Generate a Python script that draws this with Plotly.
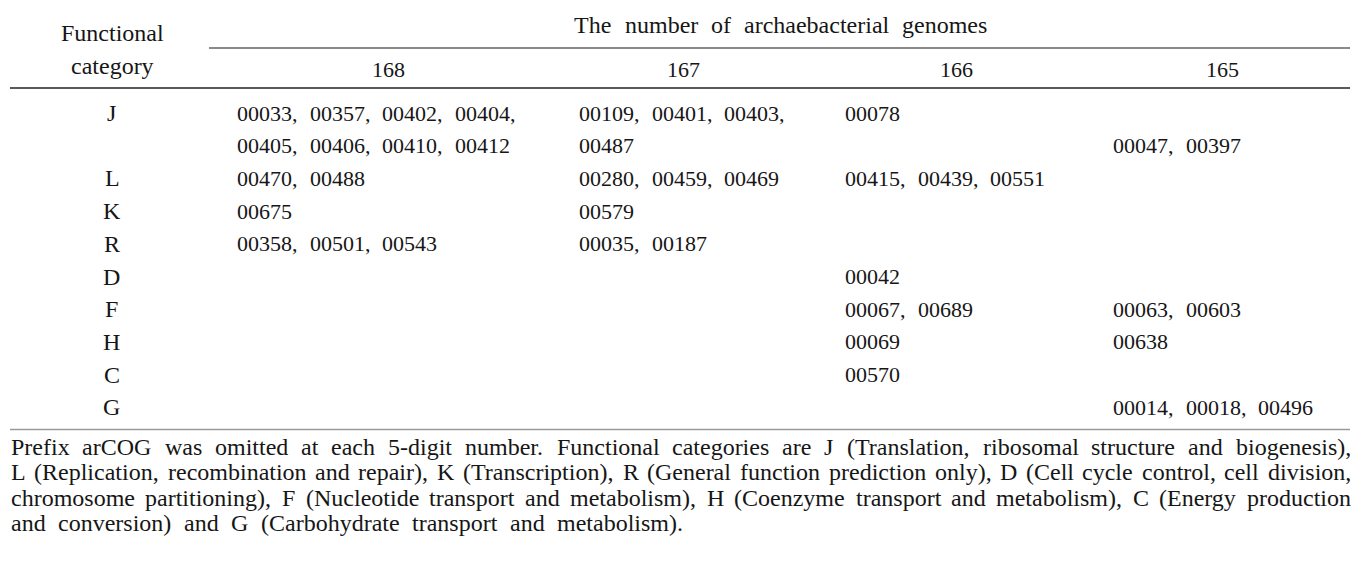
import plotly.graph_objects as go

# ---------------- data ----------------
row_header = ["Functional", "category"]
header_title = "The number of archaebacterial genomes"
genome_counts = ["168", "167", "166", "165"]
categories = ["J", "", "L", "K", "R", "D", "F", "H", "C", "G"]
col_168 = ["00033, 00357, 00402, 00404,", "00405, 00406, 00410, 00412", "00470, 00488",
           "00675", "00358, 00501, 00543", "", "", "", "", ""]
col_167 = ["00109, 00401, 00403,", "00487", "00280, 00459, 00469", "00579",
           "00035, 00187", "", "", "", "", ""]
col_166 = ["00078", "", "00415, 00439, 00551", "", "", "00042", "00067, 00689",
           "00069", "00570", ""]
col_165 = ["", "00047, 00397", "", "", "", "", "00063, 00603", "00638", "",
           "00014, 00018, 00496"]
footnote_lines = [
    "Prefix arCOG was omitted at each 5-digit number. Functional categories are J (Translation, ribosomal structure and biogenesis),",
    "L (Replication, recombination and repair), K (Transcription), R (General function prediction only), D (Cell cycle control, cell division,",
    "chromosome partitioning), F (Nucleotide transport and metabolism), H (Coenzyme transport and metabolism), C (Energy production",
    "and conversion) and G (Carbohydrate transport and metabolism).",
]

# ---------------- layout helpers ----------------
W, H = 1369, 569
OFF = 8  # default page body margin
FONT = "Liberation Serif, Times New Roman, serif"
TXT = 24     # words
DIG = 22     # numbers
FOOT = 24
COLOR = "#161616"

TW = {" ": 250, "(": 333, ")": 333, ",": 250, "-": 333, ".": 250,
      "A": 722, "B": 667, "C": 667, "D": 722, "E": 611, "F": 556, "G": 722, "H": 722,
      "I": 333, "J": 389, "K": 722, "L": 611, "M": 889, "N": 722, "O": 722, "P": 556,
      "Q": 722, "R": 667, "S": 556, "T": 611, "U": 722, "V": 722, "W": 944,
      "a": 444, "b": 500, "c": 444, "d": 500, "e": 444, "f": 333, "g": 500, "h": 500,
      "i": 278, "j": 278, "k": 500, "l": 278, "m": 778, "n": 500, "o": 500, "p": 500,
      "q": 500, "r": 333, "s": 389, "t": 278, "u": 500, "v": 500, "w": 722, "x": 500,
      "y": 500, "z": 444}
for d in "0123456789":
    TW[d] = 500


def tw(s, size):
    return sum(TW.get(c, 500) for c in s) / 1000.0 * size


def auto_size(text):
    return DIG if all(c in "0123456789, " for c in text) else TXT


annotations = []


def place(text, x, y, gap, anchor="left", width=None, size=None):
    if not text:
        return
    size = size or auto_size(text)
    words = text.split(" ")
    widths = [tw(w, size) for w in words]
    if width is not None and len(words) > 1:
        gap = (width - sum(widths)) / (len(words) - 1)
    total = sum(widths) + gap * (len(words) - 1)
    x0 = x - total / 2 if anchor == "center" else x
    cx = x0
    for w, wd in zip(words, widths):
        annotations.append(dict(x=cx, y=y, xref="x", yref="y", text=w, showarrow=False,
                                xanchor="left", yanchor="middle", borderpad=0,
                                font=dict(family=FONT, size=size, color=COLOR)))
        cx += wd + gap


# positions (reference pixel coordinates)
left, right = 10, 1350
cat_x = 111
col_x = [236, 578, 844, 1112]
col_cx = [387, 682, 955, 1221]
row_y0, row_step = 113, 32.7
cell_gap = 12

fig = go.Figure()

# header
place(row_header[0], cat_x, 33, 6, "center")
place(row_header[1], cat_x, 66, 6, "center")
place(header_title, 780, 25, 13, "center")
for cx, lab in zip(col_cx, genome_counts):
    place(lab, cx, 69, 6, "center")

# body
cols = [col_168, col_167, col_166, col_165]
for i, cat in enumerate(categories):
    y = row_y0 + i * row_step
    place(cat, cat_x, y, 6, "center")
    for cx, col in zip(col_x, cols):
        place(col[i], cx, y, cell_gap)

# footnote
foot_y = [447, 472, 497.5, 523]
for k, (line, y) in enumerate(zip(footnote_lines, foot_y)):
    if k < len(footnote_lines) - 1:
        place(line, left, y, 8, width=right - left, size=FOOT)
    else:
        place(line, left, y, 12.5, size=FOOT)

shapes = [
    dict(type="line", x0=left, x1=right, y0=7, y1=7, line=dict(color="#7a7a7a", width=2)),
    dict(type="line", x0=209, x1=right, y0=48, y1=48, line=dict(color="#8a8a8a", width=2)),
    dict(type="line", x0=left, x1=right, y0=88, y1=88, line=dict(color="#222", width=1.5)),
    dict(type="line", x0=left, x1=right, y0=429.5, y1=429.5, line=dict(color="#9a9a9a", width=1.5)),
]
for s in shapes:
    s.update(xref="x", yref="y")

fig.update_layout(
    width=W - OFF, height=H - OFF, margin=dict(l=0, r=0, t=0, b=0),
    paper_bgcolor="white", plot_bgcolor="white",
    xaxis=dict(range=[OFF, W], visible=False, fixedrange=True),
    yaxis=dict(range=[H, OFF], visible=False, fixedrange=True),
    annotations=annotations, shapes=shapes, showlegend=False,
)
fig.write_html("out.html", config={"displayModeBar": False})
